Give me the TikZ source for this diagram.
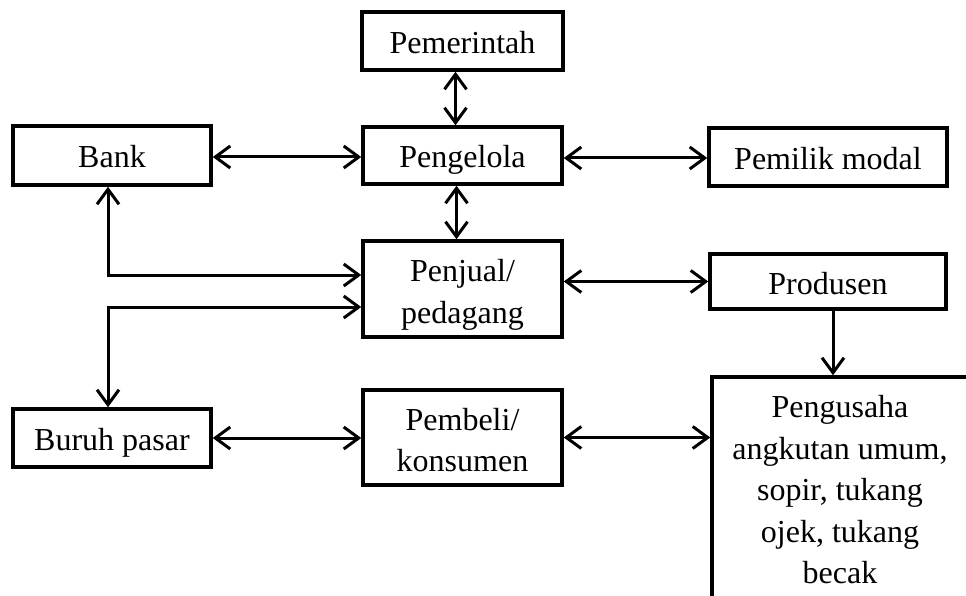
\documentclass[tikz,border=0pt]{standalone}
\usepackage{fontspec}
\setmainfont{Liberation Serif}
\usetikzlibrary{arrows.meta}
\newcommand{\topstrut}{\rule{0pt}{39pt}}
\begin{document}
\begin{tikzpicture}[x=1pt,y=-1pt,
  box/.style={draw, line width=3.5pt, inner sep=0pt,
    font=\fontsize{32}{41.5}\selectfont},
  onebox/.style={box, text height=30pt, text depth=5pt},
  multibox/.style={box, align=center},
  link/.style={line width=3pt, {Straight Barb[length=15pt,width=22pt]}-{Straight Barb[length=15pt,width=22pt]}},
  onelink/.style={line width=3pt, -{Straight Barb[length=15pt,width=22pt]}}]
\useasboundingbox[fill=white] (0,0) rectangle (966,596);
\node[onebox, minimum width=201pt, minimum height=58pt] (pemerintah) at (462.5,41) {Pemerintah};
\node[onebox, minimum width=199pt, minimum height=57pt] (pengelola) at (462.5,155.5) {Pengelola};
\node[onebox, minimum width=198pt, minimum height=59pt] (bank) at (112,155.5) {Bank};
\node[onebox, minimum width=238pt, minimum height=58pt] (pemilik) at (828,157) {Pemilik modal};
\node[multibox, minimum width=199pt, minimum height=96pt] (penjual) at (462.5,289) {\topstrut Penjual/\\pedagang\strut};
\node[onebox, minimum width=236pt, minimum height=55pt] (produsen) at (828,281.5) {Produsen};
\node[onebox, minimum width=198pt, minimum height=58pt] (buruh) at (112,438) {Buruh pasar};
\node[multibox, minimum width=199pt, minimum height=95pt] (pembeli) at (462.5,437.5) {\topstrut Pembeli/\\konsumen\strut};
\node[multibox, minimum width=256pt, minimum height=231pt] (pengusaha) at (840,492.5) {\strut Pengusaha\\angkutan umum,\\sopir, tukang\\ojek, tukang\\becak\strut};
\coordinate (c1) at (108,275);
\coordinate (c2) at (108,307);
\draw[link] ([xshift=-7pt]pemerintah.south) -- ([xshift=-7pt]pengelola.north);
\draw[link] ([xshift=-6pt]pengelola.south) -- ([xshift=-6pt]penjual.north);
\draw[link] ([yshift=-1.5pt]bank.east) -- ([yshift=-1.5pt]bank.east -| pengelola.west);
\draw[link] ([yshift=-2.5pt]pengelola.east) -- ([yshift=-2.5pt]pengelola.east -| pemilik.west);
\draw[link] (bank.south -| c1) -- (c1) -- (c1 -| penjual.west);
\draw[link] (buruh.north -| c2) -- (c2) -- (c2 -| penjual.west);
\draw[link] (penjual.east |- produsen.west) -- (produsen.west);
\draw[link] (buruh.east) -- (buruh.east -| pembeli.west);
\draw[link] (pembeli.east) -- (pembeli.east -| pengusaha.west);
\draw[onelink] ([xshift=5pt]produsen.south) -- ([xshift=5pt]produsen.south |- pengusaha.north);
\end{tikzpicture}
\end{document}
